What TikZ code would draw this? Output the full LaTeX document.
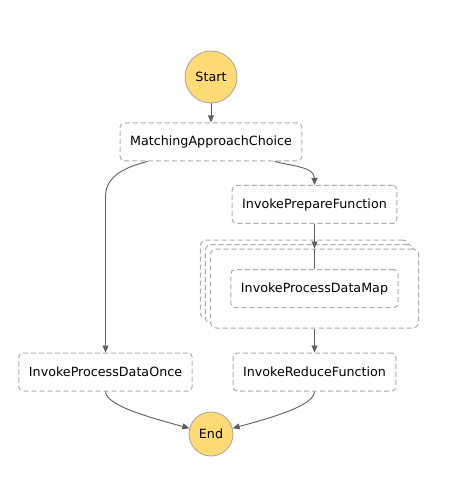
\documentclass[tikz,border=0pt]{standalone}
\usepackage{fontspec}
\setmainfont{DejaVu Sans}
\usetikzlibrary{positioning, arrows.meta, fit, backgrounds}
\definecolor{sfnYellow}{HTML}{FFDA75}
\definecolor{sfnRing}{HTML}{A3A3A3}
\definecolor{sfnDash}{HTML}{ABABAB}
\definecolor{sfnEdge}{HTML}{5E5E5E}

\begin{document}
\begin{tikzpicture}[
    term/.style={circle, draw=sfnRing, fill=sfnYellow, line width=0.8pt, inner sep=0pt,
      font=\fontsize{12.7}{15}\selectfont},
    task/.style={rounded corners=4pt, draw=sfnDash, dash pattern=on 5pt off 3pt,
      line width=1pt, fill=white, minimum height=38pt, inner xsep=10pt,
      font=\fontsize{12.7}{15}\selectfont},
    mapbox/.style={rounded corners=6pt, draw=sfnDash, dash pattern=on 5pt off 3pt,
      line width=1pt, fill=white, inner sep=20pt},
    arr/.style={-{Triangle[length=7pt, width=6pt]}, sfnEdge, line width=0.9pt},
    link/.style={sfnEdge, line width=0.9pt}]
    \useasboundingbox (0,0) rectangle (471pt,-502pt);
    \node[term, minimum size=52pt] (start) at (211pt,-77pt) {Start};
    \node[task, below=19pt of start] (choice) {MatchingApproachChoice};
    \node[task] (prep) at (314.5pt,-204.5pt) {InvokePrepareFunction};
    \node[task, below=45pt of prep] (pmap) {InvokeProcessDataMap};
    \begin{scope}[on background layer]
      \foreach \s in {10,5,0}
        \node[mapbox, fit=(pmap), xshift=-\s pt, yshift={0.9*\s}] (map\s) {};
    \end{scope}
    \node[task, below=24pt of map0] (reduce) {InvokeReduceFunction};
    \node[task, left=40pt of reduce] (once) {InvokeProcessDataOnce};
    \node[term, minimum size=44pt] (end) at (211pt,-434pt) {End};
    \draw[arr] (start) -- (choice);
    \draw[arr] ([xshift=28pt]choice.south west) to[out=195, in=90]
      ([yshift=-35pt]once.north |- choice.south) -- (once.north);
    \draw[arr] ([xshift=-28pt]choice.south east) to[out=-15, in=90] (prep.north);
    \draw[arr] (prep) -- (map0);
    \draw[link] (map0.north) -- (pmap);
    \draw[arr] (map0) -- (reduce);
    \draw[arr] (once.south) .. controls +(0,-14pt) and +(165:40pt) .. (end.165);
    \draw[arr] (reduce.south) .. controls +(0,-14pt) and +(15:40pt) .. (end.15);
  \end{tikzpicture}
\end{document}
